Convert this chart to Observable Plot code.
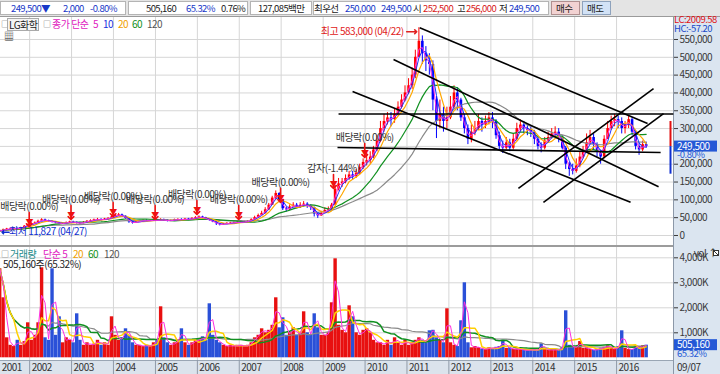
<!DOCTYPE html>
<html><head><meta charset="utf-8">
<script src="https://cdn.jsdelivr.net/npm/d3@7"></script>
<script src="https://cdn.jsdelivr.net/npm/@observablehq/plot@0.6"></script>
<style>
html,body{margin:0;padding:0;background:#fff;}
#wrap{position:relative;width:720px;height:374px;overflow:hidden;background:#fff;
 font-family:"Noto Sans CJK KR","Noto Sans",sans-serif;font-size:10px;letter-spacing:-0.5px;color:#222;}
.a{position:absolute;white-space:nowrap;line-height:12px;}
#hdr .a{font-size:9.5px;letter-spacing:-0.6px;}
.box{position:absolute;top:1px;height:14px;background:#fff;border:1px solid #b4b4b4;box-sizing:border-box;}
#hdr{position:absolute;left:0;top:0;width:720px;height:17px;background:#e4e4e4;border-bottom:1px solid #9a9a9a;box-sizing:border-box;}
#rstrip{position:absolute;left:673px;top:17px;width:47px;height:357px;background:#dbe5f0;border-left:1px solid #8c98a8;box-sizing:border-box;}
#bstrip{position:absolute;left:0;top:360px;width:673px;height:14px;background:#dbe3ec;border-top:1px solid #9aa6b4;box-sizing:border-box;}
#sep{position:absolute;left:0;top:245px;width:673px;height:2px;background:#9c9c9c;}
#price{position:absolute;left:0;top:16px;}
#vol{position:absolute;left:0;top:246px;}
#xaxis{position:absolute;left:0;top:360px;}
#closeicon{position:absolute;left:713px;top:250px;width:6px;height:6px;border:1px solid #333;background:linear-gradient(45deg,#fff 42%,#333 42%,#333 58%,#fff 58%);box-sizing:border-box;}
svg{overflow:visible;}
svg text{letter-spacing:-0.5px;}
</style>
</head><body>
<div id="wrap">
  <div id="rstrip"></div>
  <div id="bstrip"></div>
  <div id="price"></div>
  <div id="vol"></div>
  <div id="xaxis"></div>
  <div id="sep"></div>
  <div id="closeicon"></div>
  <div id="hdr">
    <div class="box" style="left:0;width:126px"></div>
    <div class="box" style="left:128px;width:120px"></div>
    <div class="box" style="left:250px;width:62px"></div>
    <div class="box" style="left:313px;width:236px"></div>
    <div class="box" style="left:551px;width:29px;background:#f2d2d2;border-color:#b09090"></div>
    <div class="box" style="left:582px;width:29px;background:#d2e2f6;border-color:#8ea2bc"></div>
    <span class="a" style="left:11px;top:2px;color:#1838c8">249,500▼</span>
    <span class="a" style="left:63px;top:2px;color:#1838c8">2,000</span>
    <span class="a" style="left:90px;top:2px;color:#1838c8">-0.80%</span>
    <span class="a" style="left:146px;top:2px;color:#222">505,160</span>
    <span class="a" style="left:186px;top:2px;color:#1838c8">65.32%</span>
    <span class="a" style="left:221px;top:2px;color:#222">0.76%</span>
    <span class="a" style="left:258px;top:2px;color:#222">127,085백만</span>
    <span class="a" style="left:314px;top:2px;color:#222">최우선</span>
    <span class="a" style="left:345px;top:2px;color:#1838c8">250,000</span>
    <span class="a" style="left:381px;top:2px;color:#1838c8">249,500</span>
    <span class="a" style="left:413px;top:2px;color:#222">시</span>
    <span class="a" style="left:423px;top:2px;color:#d81818">252,500</span>
    <span class="a" style="left:457px;top:2px;color:#222">고</span>
    <span class="a" style="left:466px;top:2px;color:#d81818">256,000</span>
    <span class="a" style="left:499px;top:2px;color:#222">저</span>
    <span class="a" style="left:509px;top:2px;color:#1838c8">249,500</span>
    <span class="a" style="left:556px;top:2px;color:#222">매수</span>
    <span class="a" style="left:587px;top:2px;color:#222">매도</span>
  </div>
  <!-- price panel legend -->
  <span class="a" style="left:1px;top:18px;color:#666;font-size:8px">□</span>
  <span class="a" style="left:7px;top:18px;height:11px;border:1px solid #aaa;background:#f4f4f4;padding:0 1px;line-height:11px">LG화학</span>
  <span class="a" style="left:43px;top:18px;color:#666;font-size:8px">□</span>
  <span class="a" style="left:52px;top:18px;color:#e020c0">종가 단순</span>
  <span class="a" style="left:93px;top:18px;color:#e020c0">5</span>
  <span class="a" style="left:103px;top:18px;color:#2030e0">10</span>
  <span class="a" style="left:118px;top:18px;color:#f0a000">20</span>
  <span class="a" style="left:132px;top:18px;color:#10901a">60</span>
  <span class="a" style="left:147px;top:18px;color:#555">120</span>
  <span class="a" style="left:4px;top:30px;color:#333;font-size:10px">▦</span>
  <span class="a" style="left:674px;top:15px;color:#e01010;font-size:9.5px;line-height:9px">LC:2009.58</span>
  <span class="a" style="left:674px;top:24px;color:#1848c8;font-size:9.5px;line-height:9px">HC:-57.20</span>
  <!-- volume panel legend -->
  <span class="a" style="left:1px;top:248px;color:#666;font-size:8px">□</span>
  <span class="a" style="left:10px;top:248px;color:#1a8a8a">거래량</span>
  <span class="a" style="left:43px;top:248px;color:#e020c0">단순 5</span>
  <span class="a" style="left:73px;top:248px;color:#f0a000">20</span>
  <span class="a" style="left:88px;top:248px;color:#10901a">60</span>
  <span class="a" style="left:104px;top:248px;color:#555">120</span>
  <span class="a" style="left:3px;top:258px;color:#222">505,160주(65.32%)</span>
  <span class="a" style="left:677px;top:361px;color:#333">09/07</span>
</div>
<script>
// ---------- DATA (monthly, Apr 2001 – Sep 2016), prices in thousand won ----------
const close = [
 13,16,18,19,20,18,22,26,30,
 33,35,40,44,42,40,38,36,33,34,36,38,
 37,35,34,37,40,42,44,45,44,46,48,52,
 56,58,54,48,38,35,38,40,42,41,42,43,
 42,44,43,41,42,44,45,44,46,45,48,50,
 52,50,46,42,38,33,30,32,34,35,36,37,
 37,38,40,44,50,56,62,72,85,105,118,100,
 75,72,80,85,80,85,88,82,78,60,55,62,
 70,72,85,130,145,150,160,170,165,175,190,205,
 210,220,240,265,300,320,330,325,340,360,380,400,
 420,450,500,545,510,490,480,380,320,340,320,330,
 360,400,380,330,300,270,290,300,320,310,320,330,
 320,280,250,245,260,245,270,300,310,300,295,290,
 270,250,245,265,275,285,290,275,245,200,185,180,
 195,220,235,260,275,255,235,220,270,300,320,325,
 320,300,310,325,290,250,240,255,249.5
];
const high = [
 16,18,20,21,22,21,23,28,32,
 36,38,43,47,46,43,41,39,37,36,38,40,
 40,38,37,39,42,44,46,48,47,48,50,55,
 60,62,60,55,49,40,40,42,44,44,44,45,
 45,47,46,44,44,46,47,47,48,48,50,53,
 55,54,51,47,43,39,34,34,36,37,38,39,
 40,40,42,47,54,60,68,78,90,110,125,120,
 100,80,86,92,90,92,95,92,86,80,62,68,
 78,80,90,140,160,160,170,180,180,185,200,215,
 230,235,250,280,320,340,345,345,355,375,395,420,
 440,470,520,583,560,530,510,490,390,380,360,360,
 390,420,415,385,340,310,310,320,340,330,335,345,
 345,325,290,265,275,270,285,315,325,320,310,305,
 295,275,260,275,290,300,305,300,280,250,205,200,
 215,235,250,285,295,285,260,240,280,320,335,340,
 335,330,320,335,330,295,260,265,262
];
const low = [
 11.8,13,16,17,18,16,17,21,26,
 30,32,34,40,39,37,35,33,30,31,33,35,
 34,32,31,33,36,39,41,42,41,43,45,47,
 50,54,51,46,34,32,34,37,39,39,40,40,
 40,41,40,38,39,41,43,42,43,43,44,47,
 48,47,44,40,36,28,27,29,31,32,34,35,
 35,36,37,40,44,50,56,60,70,85,100,92,
 70,66,70,78,75,76,80,76,70,52,48,54,
 62,66,70,85,125,135,145,155,155,160,170,185,
 195,200,215,235,260,290,310,305,315,335,355,375,
 395,410,440,500,480,460,450,350,272,300,290,300,
 325,355,350,320,285,255,260,280,295,290,300,310,
 300,270,240,230,240,235,240,265,290,285,280,275,
 255,240,232,240,260,270,275,260,240,185,166,170,
 175,190,215,230,255,240,220,200,215,270,295,305,
 300,285,285,300,280,240,225,235,245
];
// volume in thousand shares
const volume = [
 3560,2400,800,500,450,700,500,650,1400,
 700,900,1400,3600,800,700,3560,900,1640,600,800,700,
 600,1760,700,500,600,500,550,700,500,600,500,1640,
 900,700,800,1160,900,600,500,500,450,500,450,600,
 700,2040,800,600,500,600,700,1160,600,500,600,700,
 700,840,700,2160,900,700,600,500,450,500,450,500,
 500,450,500,600,800,900,1160,1000,1100,1300,2400,1200,
 1600,900,1000,1200,900,1000,1840,1000,900,1760,1200,900,
 900,1000,2200,3960,1300,1100,1000,2080,1640,1000,900,1100,
 1160,1000,700,600,600,500,700,500,800,600,500,700,
 500,600,700,800,700,600,1080,1100,800,700,600,1960,
 600,500,450,1480,3000,600,400,450,400,350,330,400,
 380,420,450,700,380,400,330,350,330,300,300,320,
 320,300,560,340,300,330,300,330,420,1880,500,420,
 420,650,380,400,330,300,330,380,420,480,400,330,
 450,1080,380,330,330,480,400,480,505
];
const tickYears = ["2001","2002","2003","2004","2005","2006","2007","2008","2009","2010","2011","2012","2013","2014","2015","2016"];
const priceTicks = [0,50000,100000,150000,200000,250000,300000,350000,400000,450000,500000,550000];
const volTicks = [1000,2000,3000,4000];
const events = [
 {date:"2001-12-28", label:"배당락(0.00%)", price:25000},
 {date:"2002-12-27", label:"배당락(0.00%)", price:45000},
 {date:"2003-12-29", label:"배당락(0.00%)", price:53000},
 {date:"2004-12-29", label:"배당락(0.00%)", price:45000},
 {date:"2005-12-28", label:"배당락(0.00%)", price:59000},
 {date:"2006-12-27", label:"배당락(0.00%)", price:45000},
 {date:"2007-12-27", label:"배당락(0.00%)", price:93000},
 {date:"2009-04-01", label:"감자(-1.44%)", price:132000},
 {date:"2009-12-29", label:"배당락(0.00%)", price:219000}
];
const peak = {date:"2011-04-22", price:583000, md:"04/22"};
const trough = {date:"2001-04-27", price:11827, md:"04/27"};
const trendLines = [
 {d1:"2011-04-22", p1:583000, d2:"2016-09-27", p2:314000},
 {d1:"2010-09-06", p1:494000, d2:"2017-01-01", p2:137000},
 {d1:"2009-09-14", p1:404000, d2:"2016-05-02", p2:93000},
 {d1:"2009-05-15", p1:341000, d2:"2017-05-10", p2:341000},
 {d1:"2009-05-06", p1:247000, d2:"2017-01-19", p2:233000},
 {d1:"2013-08-29", p1:132000, d2:"2016-11-18", p2:412000},
 {d1:"2014-04-04", p1:93000,  d2:"2017-02-13", p2:342000}
];
const lastPrice = 249500, lastChange = "-0.80%";
const lastVolume = 505160, lastVolPct = "65.32%";
const rangeBar = {hi:320000, lo:172000};

// ---------- BUILD ----------
const fmt = d3.format(",");
const months = d3.utcMonth.range(new Date("2001-04-01"), new Date("2016-10-01"));
const rows = months.map((m,i) => {
  const o = (i ? close[i-1] : close[0]) * 1000, c = close[i] * 1000;
  return {date: d3.utcDay.offset(m, 14), open: o, close: c,
          high: Math.max(high[i]*1000, o, c), low: Math.min(low[i]*1000, o, c), vol: volume[i]};
});
const col = d => d.close >= d.open ? "#ff0000" : "#0000ff";
const xDomain = [new Date("2001-04-22"), new Date("2017-05-11")];
const yearStarts = tickYears.slice(1).map(y => new Date(y + "-01-01"));
const yearLabelDates = tickYears.map((y,i) => i === 0 ? rows[0].date : new Date(y + "-01-01"));
const ev = events.map(e => ({...e, date: new Date(e.date)}));
const tl = trendLines.map(t => ({x1: new Date(t.d1), y1: t.p1, x2: new Date(t.d2), y2: t.p2}));
const pk = {...peak, date: new Date(peak.date)};
const tr = {...trough, date: new Date(trough.date)};
// the 250,000 label sits under the current-price box, as in the reference
const priceAxisTicks = priceTicks.filter(v => Math.abs(v - lastPrice) > 10000);
const FONT = "'Noto Sans CJK KR','Noto Sans',sans-serif";
const baseStyle = {background: "transparent", fontFamily: FONT, fontSize: "10px", color: "#3a3a3a", overflow: "visible", letterSpacing: "-0.5px"};

const ma = (k, stroke, yv, w=1) => Plot.lineY(rows, Plot.windowY({k, anchor: "end", reduce: "mean"}, {x: "date", y: yv, stroke, strokeWidth: w}));

const priceChart = Plot.plot({
  width: 720, height: 230, marginLeft: 0, marginRight: 47, marginTop: 0, marginBottom: 0,
  style: baseStyle,
  x: {type: "utc", domain: xDomain, axis: null},
  y: {domain: [-30900, 614500], axis: "right", ticks: priceAxisTicks, tickFormat: fmt, tickSize: 4, tickPadding: 2},
  color: {type: "identity"},
  marks: [
    Plot.ruleY(priceTicks, {stroke: "#d6d6d6"}),
    Plot.ruleX(yearStarts, {stroke: "#d6d6d6"}),
    Plot.ruleX(rows, {x: "date", y1: "low", y2: "high", stroke: col, strokeWidth: 1}),
    Plot.ruleX(rows, {x: "date", y1: "open", y2: "close", stroke: col, strokeWidth: 2.6}),
    ma(28, "#8a8a8a", "close", 1.2),
    ma(14, "#109020", "close", 1.2),
    ma(5, "#ffa800", "close", 1.2),
    ma(3, "#2030ff", "close", 1),
    ma(2, "#ff30e0", "close", 1),
    Plot.link(tl, {x1: "x1", y1: "y1", x2: "x2", y2: "y2", stroke: "#000", strokeWidth: 1.6}),
    Plot.vector(ev, {x: "date", y: "price", length: 14, rotate: 180, anchor: "end", stroke: "#ee1010", strokeWidth: 1.6}),
    Plot.text(ev, {x: "date", y: "price", text: () => "▼", fill: "#ee1010", fontSize: 8, dy: -4}),
    Plot.text(ev, {x: "date", y: "price", text: "label", fill: "#333", dy: -20}),
    Plot.text([pk], {x: "date", y: "price", text: d => `최고 ${fmt(d.price)} (${d.md})`, textAnchor: "end", dx: -16, dy: 4, fill: "#e02020"}),
    Plot.vector([pk], {x: "date", y: "price", length: 10, rotate: 90, anchor: "end", dx: -3, dy: 4, stroke: "#e02020", strokeWidth: 1.6}),
    Plot.text([tr], {x: "date", y: "price", text: d => `최저 ${fmt(d.price)} (${d.md})`, textAnchor: "start", dx: 8, dy: 1, fill: "#1030d0"}),
    Plot.vector([tr], {x: "date", y: "price", length: 7, rotate: -90, anchor: "end", dx: 1, dy: 1, stroke: "#1030d0", strokeWidth: 1.6}),
    Plot.ruleX([xDomain[1]], {y1: lastPrice, y2: rangeBar.hi, stroke: "#e01010", strokeWidth: 2, dx: -3}),
    Plot.ruleX([xDomain[1]], {y1: rangeBar.lo, y2: lastPrice, stroke: "#1030d0", strokeWidth: 2, dx: -3})
  ]
});
document.getElementById("price").append(priceChart);

const volChart = Plot.plot({
  width: 720, height: 114, marginLeft: 0, marginRight: 47, marginTop: 0, marginBottom: 0,
  style: baseStyle,
  x: {type: "utc", domain: xDomain, axis: null},
  y: {domain: [-108, 4452], axis: "right", ticks: volTicks, tickFormat: d => fmt(d) + "K", tickSize: 4, tickPadding: 2},
  color: {type: "identity"},
  marks: [
    Plot.ruleY(volTicks, {stroke: "#d6d6d6"}),
    Plot.ruleX(yearStarts, {stroke: "#d6d6d6"}),
    Plot.ruleX(rows, {x: "date", y1: 0, y2: "vol", stroke: d => d.close >= d.open ? "#e81010" : "#2a50d8", strokeWidth: 3.4}),
    ma(28, "#8a8a8a", "vol", 1.2),
    ma(14, "#109020", "vol", 1.5),
    ma(5, "#ffd000", "vol", 1.5),
    ma(2, "#ff30e0", "vol", 1)
  ]
});
document.getElementById("vol").append(volChart);

const axisChart = Plot.plot({
  width: 720, height: 14, marginLeft: 0, marginRight: 47, marginTop: 0, marginBottom: 0,
  style: baseStyle,
  x: {type: "utc", domain: xDomain, axis: null},
  marks: [
    Plot.ruleX(yearStarts, {stroke: "#8f9aa8"}),
    Plot.text(tickYears, {x: (d,i) => yearLabelDates[i], text: d => d, textAnchor: "start", dx: 2, frameAnchor: "middle", fill: "#333"})
  ]
});
document.getElementById("xaxis").append(axisChart);

// last-value boxes on the right axis, positioned with the plots' own y scales
function yOf(chart, v, lo, hi, h) {
  const s = chart.scale("y");
  if (s && typeof s.apply === "function") return s.apply(v);
  return h - (v - lo) / (hi - lo) * h;
}
function addBox(chart, v, lo, hi, h, label, sub) {
  const y = yOf(chart, v, lo, hi, h);
  const svg = d3.select(chart);
  svg.append("rect").attr("x", 674).attr("y", y - 5.5).attr("width", 43).attr("height", 11).attr("fill", "#2458d6");
  svg.append("text").attr("x", 677).attr("y", y + 3.5).attr("text-anchor", "start").attr("fill", "#fff").style("font-size", "10px").text(label);
  svg.append("text").attr("x", 677).attr("y", y + 12).attr("text-anchor", "start").attr("fill", "#2458d6").style("font-size", "9.5px").text(sub);
}
addBox(priceChart, lastPrice, -30900, 614500, 230, fmt(lastPrice), lastChange);
addBox(volChart, lastVolume / 1000, -108, 4452, 114, fmt(lastVolume), lastVolPct);
</script>
</body></html>
